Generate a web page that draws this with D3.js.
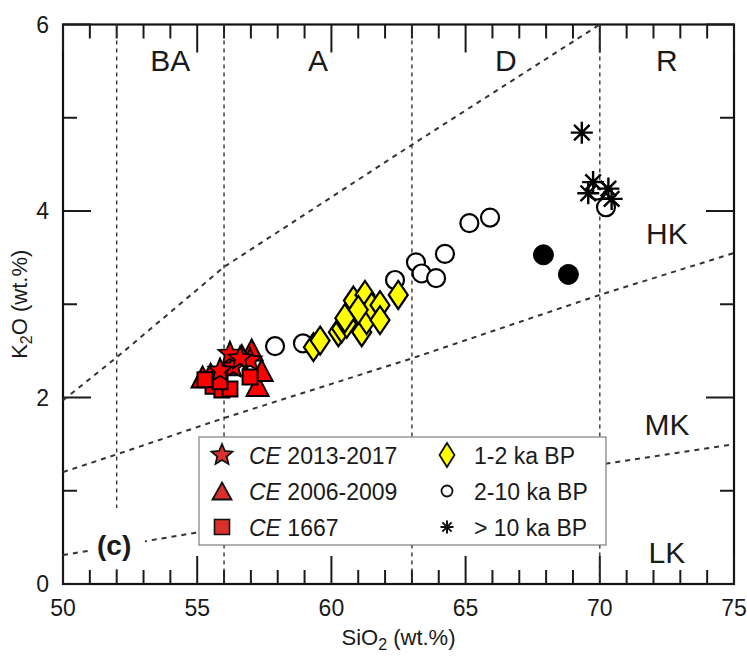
<!DOCTYPE html>
<html><head><meta charset="utf-8">
<script src="https://cdn.jsdelivr.net/npm/d3@7"></script>
<style>
html,body{margin:0;padding:0;background:#fff;}
svg{display:block;font-family:"Liberation Sans",Arial,sans-serif;}
</style></head>
<body><svg id="chart" width="747" height="660"></svg>
<script>
// ---- data (SiO2 wt.%, K2O wt.%) ----
const ce2013 = [[56.35,2.33],[56.97,2.40],[56.22,2.47],[55.85,2.29],[56.6,2.42]];
const ce2006 = [[55.50,2.25],[57.03,2.51],[56.66,2.45],[57.25,2.13],[57.40,2.29],[56.22,2.35],[55.2,2.22]];
const ce1667 = [[55.59,2.12],[55.92,2.08],[56.22,2.09],[55.85,2.17],[56.97,2.22],[55.29,2.19]];
const ka1_2 = [[59.33,2.54],[59.58,2.61],[60.26,2.70],[60.38,2.74],[60.57,2.79],[60.82,3.04],[61.25,3.10],[61.13,2.70],[61.31,2.83],[61.50,2.97],[61.81,2.99],[61.81,2.83],[62.49,3.10],[61.0,2.94],[60.5,2.85]];
const ka2_10 = [[57.90,2.55],[58.94,2.58],[62.37,3.26],[63.15,3.45],[63.36,3.33],[63.90,3.28],[64.23,3.54],[65.14,3.87],[65.91,3.93],[70.23,4.04],[69.90,4.22]];
const ka2_10filled = [[67.90,3.53],[68.83,3.32]];
const ka10 = [[69.33,4.84],[69.75,4.31],[69.57,4.19],[70.32,4.24],[70.44,4.13]];
// classification boundaries
const lineLKMK = [[50,0.31],[70,1.28],[75,1.5]];
const lineMKHK = [[50,1.2],[52,1.39],[56,1.78],[63,2.42],[70,3.1],[75,3.55]];
const lineHKSHO = [[50,1.97],[52,2.43],[56,3.4],[63,4.71],[70,6.0]];
const silicaDivs = [52,56,63,70];
const zoneLabels = [["BA",54],["A",59.5],["D",66.5],["R",72.5]];
const seriesLabels = [["HK",3.65],["MK",1.6],["LK",0.22]];
const xMajor = [50,55,60,65,70,75];
const yMajor = [0,2,4,6];
const xMinor = [51,52,53,54,56,57,58,59,61,62,63,64,66,67,68,69,71,72,73,74];
const yMinor = [1,3,5];

// ---- layout ----
const svg = d3.select("#chart");
const X0=63, X1=734, Y0=584, Y1=24.5;
const x = d3.scaleLinear().domain([50,75]).range([X0,X1]);
const y = d3.scaleLinear().domain([0,6]).range([Y0,Y1]);
const TXT="#1a1a1a";

// frame + ticks
svg.append("rect").attr("x",X0).attr("y",Y1).attr("width",X1-X0).attr("height",Y0-Y1)
  .attr("fill","none").attr("stroke","#111").attr("stroke-width",2.2);
const tg = svg.append("g").attr("id","ticks");
function addTick(x1,y1,x2,y2){
  tg.append("line").attr("x1",x1).attr("y1",y1).attr("x2",x2).attr("y2",y2)
    .attr("stroke","#1a1a1a").attr("stroke-width",2);
}
xMajor.forEach(v=>{ addTick(x(v),Y0,x(v),Y0-28); addTick(x(v),Y1,x(v),Y1+28); });
xMinor.forEach(v=>{ addTick(x(v),Y0,x(v),Y0-14); addTick(x(v),Y1,x(v),Y1+14); });
yMajor.forEach(v=>{ addTick(X0,y(v),X0+28,y(v)); addTick(X1,y(v),X1-28,y(v)); });
yMinor.forEach(v=>{ addTick(X0,y(v),X0+14,y(v)); addTick(X1,y(v),X1-14,y(v)); });

// dashed boundaries
const lineGen = d3.line().x(d=>x(d[0])).y(d=>y(d[1]));
svg.append("g").selectAll("line").data(silicaDivs).join("line")
  .attr("x1",d=>x(d)).attr("x2",d=>x(d)).attr("y1",Y1).attr("y2",Y0)
  .attr("stroke","#333").attr("stroke-width",1.4).attr("stroke-dasharray","4,4");
[lineLKMK,lineMKHK,lineHKSHO].forEach(l=>{
  svg.append("path").attr("d",lineGen(l)).attr("fill","none")
    .attr("stroke","#333").attr("stroke-width",2).attr("stroke-dasharray","5,5");
});

// (c) label with white background
svg.append("rect").attr("x",88).attr("y",508).attr("width",57).attr("height",61).attr("fill","#fff");
svg.append("text").attr("x",97).attr("y",555).attr("font-size",28).attr("font-weight","bold")
  .attr("fill",TXT).text("(c)");

// zone labels
zoneLabels.forEach(([t,s])=>{
  svg.append("text").attr("x",x(s)).attr("y",71).attr("text-anchor","middle")
    .attr("font-size",30).attr("fill",TXT).text(t);
});
seriesLabels.forEach(([t,k])=>{
  svg.append("text").attr("x",x(72.5)).attr("y",y(k)).attr("text-anchor","middle")
    .attr("font-size",30).attr("fill",TXT).text(t);
});

// tick labels
svg.append("g").selectAll("text").data(xMajor).join("text")
  .attr("x",d=>x(d)).attr("y",Y0+32).attr("text-anchor","middle")
  .attr("font-size",23).attr("fill",TXT).text(d=>d);
svg.append("g").selectAll("text").data(yMajor).join("text")
  .attr("x",X0-14).attr("y",d=>y(d)).attr("dy","0.36em").attr("text-anchor","end")
  .attr("font-size",23).attr("fill",TXT).text(d=>d);

// axis titles
const xt = svg.append("text").attr("x",(X0+X1)/2).attr("y",645).attr("text-anchor","middle")
  .attr("font-size",22).attr("fill",TXT);
xt.append("tspan").text("SiO");
xt.append("tspan").attr("font-size",16).attr("dy",5).text("2");
xt.append("tspan").attr("dy",-5).text(" (wt.%)");
const yt = svg.append("text").attr("transform",`translate(27,${(Y0+Y1)/2}) rotate(-90)`)
  .attr("text-anchor","middle").attr("font-size",22).attr("fill",TXT);
yt.append("tspan").text("K");
yt.append("tspan").attr("font-size",16).attr("dy",5).text("2");
yt.append("tspan").attr("dy",-5).text("O (wt.%)");

// ---- marker shapes ----
function star(R){ const r=R*0.45; let p=[];
  for(let i=0;i<10;i++){const a=-Math.PI/2+i*Math.PI/5; const rr=i%2?r:R; p.push([rr*Math.cos(a),rr*Math.sin(a)]);}
  return "M"+p.map(q=>q.join(",")).join("L")+"Z"; }
function tri(w,h){ return `M0,${-h/2}L${w/2},${h/2}L${-w/2},${h/2}Z`; }
function sq(s){ return `M${-s/2},${-s/2}h${s}v${s}h${-s}Z`; }
function dia(w,h){ return `M0,${-h/2}L${w/2},0L0,${h/2}L${-w/2},0Z`; }
function ast(s){ let d=""; for(let i=0;i<4;i++){const a=i*Math.PI/4; const c=Math.cos(a)*s/2, sn=Math.sin(a)*s/2; d+=`M${-c},${-sn}L${c},${sn}`;} return d; }
const circ = r => `M${r},0A${r},${r} 0 1,1 ${-r},0A${r},${r} 0 1,1 ${r},0Z`;

function plot(data, path, fill, stroke, sw){
  svg.append("g").selectAll("path").data(data).join("path")
    .attr("transform",d=>`translate(${x(d[0])},${y(d[1])})`)
    .attr("d",path).attr("fill",fill).attr("stroke",stroke).attr("stroke-width",sw)
    .attr("stroke-linejoin","miter");
}
plot(ka2_10, circ(9), "#fff", "#000", 2.2);
plot(ka10, ast(22), "none", "#000", 2.4);
plot(ka2_10filled, circ(10), "#000", "#000", 1);
plot(ka1_2, dia(19,28), "#ffff00", "#000", 2.2);
plot(ce2006, tri(22,21), "#ff0000", "#000", 2);
plot(ce1667, sq(15), "#ff0000", "#000", 2);
plot(ce2013, star(12), "#ff0000", "#000", 1.8);

// ---- legend ----
const lg = svg.append("g");
lg.append("rect").attr("x",199).attr("y",437).attr("width",407).attr("height",108)
  .attr("fill","#fff").attr("stroke","#888").attr("stroke-width",1.3);
const legRed="#d9302c";
const legItems = [
  {sx:222, sy:455, d:star(11), f:legRed, st:"#111", sw:1.8, it:"CE", t:" 2013-2017"},
  {sx:222, sy:491, d:tri(19,17), f:legRed, st:"#111", sw:1.8, it:"CE", t:" 2006-2009"},
  {sx:222, sy:527, d:sq(15), f:legRed, st:"#111", sw:1.6, it:"CE", t:" 1667"},
  {sx:447, sy:455, d:dia(15,24), f:"#ffff00", st:"#111", sw:1.8, it:"", t:"1-2 ka BP"},
  {sx:447, sy:491, d:circ(5.5), f:"#fff", st:"#111", sw:1.8, it:"", t:"2-10 ka BP"},
  {sx:447, sy:527, d:ast(13), f:"none", st:"#111", sw:2, it:"", t:"> 10 ka BP"},
];
legItems.forEach(o=>{
  lg.append("path").attr("transform",`translate(${o.sx},${o.sy})`).attr("d",o.d)
    .attr("fill",o.f).attr("stroke",o.st).attr("stroke-width",o.sw);
  const t = lg.append("text").attr("x",o.sx+27).attr("y",o.sy+8.5).attr("font-size",23).attr("fill",TXT);
  if(o.it) t.append("tspan").attr("font-style","italic").text(o.it);
  t.append("tspan").text(o.t);
});
</script></body></html>
